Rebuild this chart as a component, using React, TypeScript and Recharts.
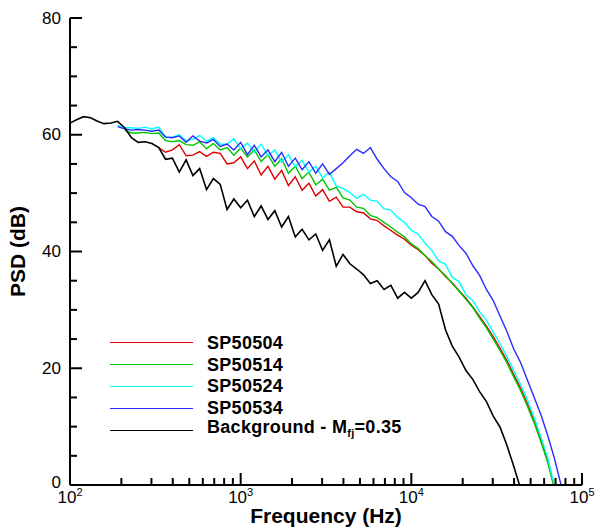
import React from 'react';
import { LineChart, Line, XAxis, YAxis, Label } from 'recharts';

// frequency grid (Hz), roughly 25 points per decade
const freqs = [
  100, 110, 120, 132, 145, 158, 174, 190, 209, 229,
  251, 275, 302, 331, 363, 398, 437, 479, 525, 575,
  631, 692, 759, 832, 912, 1000, 1096, 1202, 1318, 1445,
  1585, 1738, 1905, 2089, 2291, 2512, 2754, 3020, 3311, 3631,
  3981, 4365, 4786, 5248, 5754, 6310, 6918, 7586, 8318, 9120,
  10000, 10965, 12023, 13183, 14454, 15849, 17378, 19055, 20893, 22909,
  25119, 27542, 30200, 33113, 36308, 39811, 43652, 47863, 52481, 57544,
  63096, 69183, 75858,
];

const sp50504 = [
  null, null, null, null, null, null, null, null, null, null,
  null, null, null, 57.8, 57.0, 57.4, 58.3, 56.4, 56.5, 57.1,
  56.3, 57.0, 56.8, 55.0, 55.2, 56.2, 54.2, 55.5, 53.1, 54.6,
  52.4, 53.9, 51.3, 52.8, 50.5, 51.7, 49.5, 50.6, 48.6, 49.3,
  47.6, 47.6, 46.8, 46.6, 45.6, 45.3, 44.4, 43.6, 42.8, 42.1,
  41.1, 40.3, 39.3, 38.0, 37.0, 35.7, 34.6, 33.3, 32.0, 30.5,
  28.9, 27.2, 25.4, 23.4, 21.3, 18.9, 16.6, 13.9, 11.0, 7.6,
  4.0, -0.6, null,
];

const sp50514 = [
  null, null, null, null, null, null, null, null, 60.8, 60.3,
  60.3, 60.4, 60.2, 60.3, 59.0, 58.8, 59.0, 58.3, 58.2, 58.8,
  57.6, 58.5, 57.4, 57.8, 56.5, 57.7, 56.2, 57.4, 55.4, 56.6,
  54.6, 55.9, 53.4, 54.6, 52.5, 53.6, 51.4, 52.4, 50.5, 51.0,
  49.2, 48.8, 47.6, 47.4, 46.2, 45.8, 45.0, 44.2, 43.3, 42.5,
  41.3, 40.5, 39.3, 38.3, 37.0, 35.9, 34.5, 33.2, 31.8, 30.4,
  28.6, 26.9, 25.0, 23.0, 20.9, 18.5, 16.2, 13.5, 10.6, 7.3,
  3.8, -0.8, null,
];

const sp50524 = [
  null, null, null, null, null, null, null, 61.6, 61.2, 61.2,
  61.1, 61.3, 61.0, 61.3, 59.6, 59.6, 60.0, 59.0, 59.2, 59.9,
  58.9, 59.5, 58.4, 58.4, 59.3, 57.6, 58.6, 57.0, 58.4, 56.4,
  57.4, 55.3, 56.6, 54.5, 55.6, 53.6, 54.6, 52.6, 53.6, 51.2,
  50.8, 50.1, 49.1, 49.8, 48.8, 48.6, 47.3, 47.1, 45.8, 45.0,
  43.6, 43.0, 41.4, 40.2, 38.4, 37.8, 35.6, 34.8, 32.6, 31.6,
  29.7, 28.2, 26.2, 24.2, 22.0, 19.6, 17.2, 14.6, 11.5, 8.2,
  4.6, -0.3, null,
];

const sp50534 = [
  null, null, null, null, null, null, null, 61.4, 61.0, 60.8,
  60.9, 60.8, 60.6, 60.8, 59.6, 59.5, 59.8, 58.7, 59.8, 58.9,
  58.6, 59.2, 58.0, 58.4, 57.4, 58.7, 56.6, 58.2, 56.2, 57.4,
  55.4, 57.0, 54.6, 56.0, 54.0, 55.4, 53.4, 55.0, 53.2, 54.2,
  55.2, 56.4, 57.5, 56.8, 57.8, 55.8, 54.2, 52.8, 52.0, 50.1,
  49.2, 48.1, 47.7, 46.0, 45.2, 43.4, 42.6, 41.0, 39.7, 37.6,
  35.9, 33.5, 31.6, 28.9, 26.3, 23.3, 21.0, 18.0, 15.0, 12.0,
  8.4, 4.4, -0.3,
];

const background = [
  62.0, 62.6, 63.1, 62.9, 62.3, 61.9, 62.0, 62.3, 61.2, 59.5,
  58.7, 58.8, 58.5, 57.8, 55.8, 56.0, 53.6, 55.7, 53.0, 54.2,
  50.6, 52.5, 51.5, 47.2, 49.0, 47.5, 48.8, 46.0, 47.8, 45.5,
  47.0, 44.2, 46.0, 42.5, 43.8, 42.0, 43.0, 40.2, 42.0, 37.5,
  39.5, 37.9, 37.0, 36.0, 34.5, 35.0, 33.5, 34.2, 32.0, 33.0,
  32.0, 33.0, 35.0, 32.6, 31.0, 26.6, 23.8, 21.9, 19.6, 18.1,
  16.0, 14.3, 11.8, 9.9, 6.8, 3.2, -0.6, null, null, null,
  null, null, null,
];

const yTicks = [0, 5, 10, 15, 20, 25, 30, 35, 40, 45, 50, 55, 60, 65, 70, 75, 80];
const xTicks = [
  100, 200, 300, 400, 500, 600, 700, 800, 900,
  1000, 2000, 3000, 4000, 5000, 6000, 7000, 8000, 9000,
  10000, 20000, 30000, 40000, 50000, 60000, 70000, 80000, 90000,
  100000,
];

const series = [
  { key: 'sp50504', name: 'SP50504', color: '#e00000' },
  { key: 'sp50514', name: 'SP50514', color: '#00c800' },
  { key: 'sp50524', name: 'SP50524', color: '#00ffff' },
  { key: 'sp50534', name: 'SP50534', color: '#2a2aff' },
  { key: 'background', name: 'Background', color: '#000000' },
];

const data = freqs.map((f, i) => ({
  f,
  sp50504: sp50504[i],
  sp50514: sp50514[i],
  sp50524: sp50524[i],
  sp50534: sp50534[i],
  background: background[i],
}));

const FONT = '"Liberation Sans", Arial, sans-serif';

const YTick = (props: any) => {
  const { x, y, payload } = props;
  const major = payload.value % 20 === 0;
  return (
    <g>
      <line x1={x} x2={x + (major ? 12 : 7)} y1={y} y2={y} stroke="#000" strokeWidth={2} />
      {major && (
        <text
          x={x - 9}
          y={payload.value === 0 ? y - 3 : y}
          textAnchor="end"
          dominantBaseline="central"
          fontSize={17}
          fontFamily={FONT}
          fill="#000"
        >
          {payload.value}
        </text>
      )}
    </g>
  );
};

const XTick = (props: any) => {
  const { x, y, payload } = props;
  const exp = Math.log10(payload.value);
  const major = Math.abs(exp - Math.round(exp)) < 1e-6;
  return (
    <g>
      <line x1={x} x2={x} y1={y} y2={y - (major ? 12 : 7)} stroke="#000" strokeWidth={2} />
      {major && (
        <text x={x} y={y + 18} textAnchor="middle" fontSize={17} fontFamily={FONT} fill="#000">
          10
          <tspan fontSize={11} dy={-7}>{Math.round(exp)}</tspan>
        </text>
      )}
    </g>
  );
};

const Legend = () => (
  <div
    style={{
      position: 'absolute',
      left: 110,
      top: 332,
      fontFamily: FONT,
      fontWeight: 'bold',
      fontSize: 18,
      letterSpacing: 0.3,
      color: '#000',
    }}
  >
    {series.map((s) => (
      <div key={s.key} style={{ display: 'flex', alignItems: 'center', height: 21.8 }}>
        <div style={{ width: 83, height: 0, borderTop: `1.5px solid ${s.color}`, marginRight: 14 }} />
        <span style={{ whiteSpace: 'nowrap', lineHeight: '18px' }}>
          {s.key === 'background' ? (
            <>
              Background - M<sub style={{ fontSize: 11, verticalAlign: '-4px' }}>fj</sub>=0.35
            </>
          ) : (
            s.name
          )}
        </span>
      </div>
    ))}
  </div>
);

const App = () => {
  return (
    <div style={{ position: 'relative', width: 595, height: 529, background: '#fff' }}>
      <style>{'body{margin:0}'}</style>
      <LineChart width={595} height={529} data={data} margin={{ top: 18, right: 13, bottom: 0, left: 10 }}>
        <XAxis
          dataKey="f"
          type="number"
          scale="log"
          domain={[100, 100000]}
          allowDataOverflow
          ticks={xTicks}
          interval={0}
          tick={<XTick />}
          tickLine={false}
          tickSize={0}
          tickMargin={0}
          height={44}
          axisLine={{ stroke: '#000', strokeWidth: 2 }}
        >
          <Label
            value="Frequency (Hz)"
            position="insideBottom"
            offset={6}
            style={{ fontFamily: FONT, fontWeight: 'bold', fontSize: 21, fill: '#000' }}
          />
        </XAxis>
        <YAxis
          type="number"
          domain={[0, 80]}
          allowDataOverflow
          ticks={yTicks}
          interval={0}
          tick={<YTick />}
          tickLine={false}
          tickSize={0}
          tickMargin={0}
          width={60}
          axisLine={{ stroke: '#000', strokeWidth: 2 }}
        >
          <Label
            value="PSD (dB)"
            angle={-90}
            position="insideLeft"
            offset={8}
            style={{ fontFamily: FONT, fontWeight: 'bold', fontSize: 21, fill: '#000', textAnchor: 'middle' }}
          />
        </YAxis>
        {series.map((s) => (
          <Line
            key={s.key}
            dataKey={s.key}
            name={s.name}
            stroke={s.color}
            strokeWidth={s.key === 'background' ? 1.6 : 1.4}
            dot={false}
            activeDot={false}
            type="linear"
            isAnimationActive={false}
          />
        ))}
      </LineChart>
      <Legend />
    </div>
  );
};

export default App;
